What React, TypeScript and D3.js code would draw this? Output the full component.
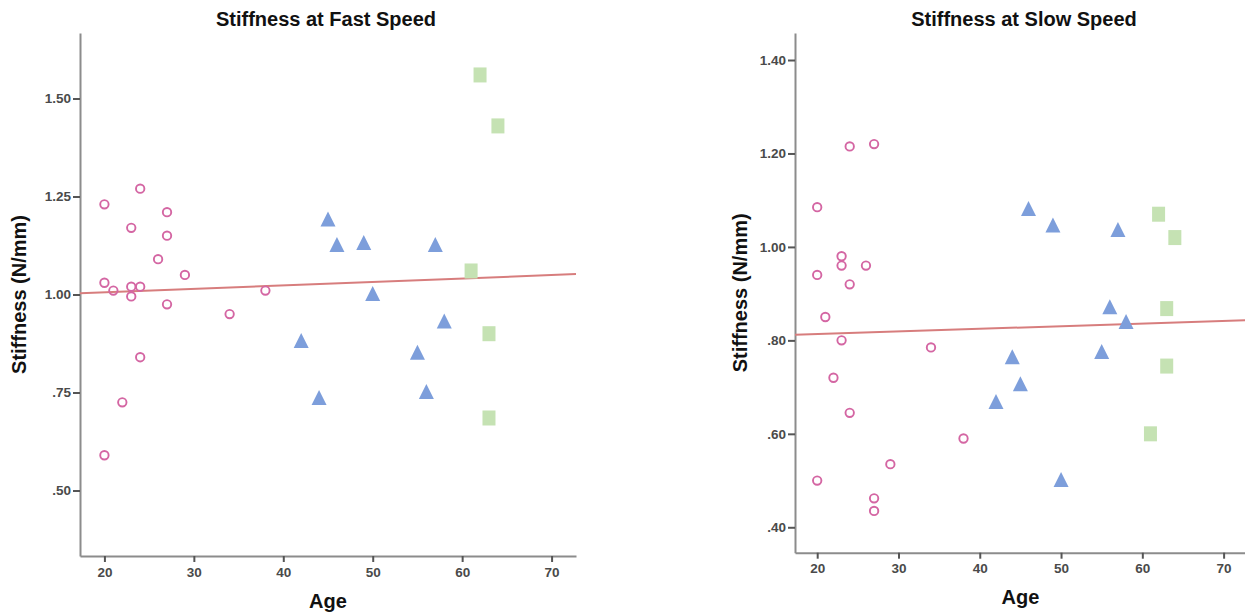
import React, { useEffect, useRef } from 'react';
import * as d3 from 'd3';

// age axis shared by both panels
const ageDomain = [17.27, 72.73];
const ageTicks = [20, 30, 40, 50, 60, 70];

// fast speed
const fastTicks = [0.5, 0.75, 1.0, 1.25, 1.5];
const fastYoungAge = [20, 20, 21, 23, 23, 23, 24, 24, 26, 27, 27, 27, 29, 38, 34, 24, 22, 20];
const fastYoungVal = [1.23, 1.03, 1.01, 1.17, 1.02, 0.995, 1.27, 1.02, 1.09, 1.21, 1.15, 0.975, 1.05, 1.01, 0.95, 0.84, 0.725, 0.59];
const fastMidAge = [45, 46, 49, 57, 50, 58, 42, 55, 44, 56];
const fastMidVal = [1.19, 1.125, 1.13, 1.125, 1.0, 0.93, 0.88, 0.85, 0.735, 0.75];
const fastOldAge = [62, 64, 61, 63, 63];
const fastOldVal = [1.56, 1.43, 1.06, 0.9, 0.685];
const fastFit = [0.9877, 0.000884]; // intercept, slope

// slow speed
const slowTicks = [0.4, 0.6, 0.8, 1.0, 1.2, 1.4];
const slowYoungAge = [24, 27, 20, 20, 23, 23, 24, 26, 21, 23, 22, 24, 34, 38, 29, 20, 27, 27];
const slowYoungVal = [1.215, 1.22, 1.085, 0.94, 0.98, 0.96, 0.92, 0.96, 0.85, 0.8, 0.72, 0.645, 0.785, 0.59, 0.535, 0.5, 0.462, 0.435];
const slowMidAge = [46, 49, 57, 56, 58, 55, 44, 45, 42, 50];
const slowMidVal = [1.08, 1.045, 1.035, 0.87, 0.838, 0.774, 0.763, 0.705, 0.667, 0.5];
const slowOldAge = [62, 64, 63, 63, 61];
const slowOldVal = [1.07, 1.02, 0.868, 0.745, 0.6];
const slowFit = [0.8023, 0.000559];

const FONT = "'Liberation Sans', Arial, sans-serif";

const panels = [
  {
    title: 'Stiffness at Fast Speed',
    left: 80, right: 576, top: 33, bottom: 556,
    yDomain: [0.333, 1.667], yTicks: fastTicks,
    young: [fastYoungAge, fastYoungVal], mid: [fastMidAge, fastMidVal], old: [fastOldAge, fastOldVal],
    fit: fastFit,
    titleX: 326, yLabelX: 26, ageY: 608,
  },
  {
    title: 'Stiffness at Slow Speed',
    left: 795, right: 1245.8, top: 33, bottom: 552.7,
    yDomain: [0.3456, 1.4578], yTicks: slowTicks,
    young: [slowYoungAge, slowYoungVal], mid: [slowMidAge, slowMidVal], old: [slowOldAge, slowOldVal],
    fit: slowFit,
    titleX: 1024, yLabelX: 747, ageY: 604,
  },
];

function drawPanel(g, p) {
  const x = d3.scaleLinear().domain(ageDomain).range([p.left, p.right]);
  const y = d3.scaleLinear().domain(p.yDomain).range([p.bottom, p.top]);
  const fmt = (d) => d3.format('.2f')(d).replace(/^0/, '');

  const ya = g.append('g')
    .attr('transform', `translate(${p.left},0)`)
    .call(d3.axisLeft(y).tickValues(p.yTicks).tickFormat(fmt).tickSize(7).tickPadding(2).tickSizeOuter(0));
  const xa = g.append('g')
    .attr('transform', `translate(0,${p.bottom})`)
    .call(d3.axisBottom(x).tickValues(ageTicks).tickFormat(d3.format('d')).tickSize(6).tickPadding(5).tickSizeOuter(0));
  [ya, xa].forEach((a) => {
    a.select('.domain').attr('stroke', '#8c8c8c').attr('stroke-width', 2);
    a.selectAll('.tick line').attr('stroke', '#555').attr('stroke-width', 2);
    a.selectAll('.tick text').attr('fill', '#4a4a4a').style('font', `bold 13.5px ${FONT}`);
  });

  // fit line
  const line = d3.line().x((d) => x(d)).y((d) => y(p.fit[0] + p.fit[1] * d));
  g.append('path').attr('d', line(ageDomain))
    .attr('fill', 'none').attr('stroke', '#d77d7d').attr('stroke-width', 2);

  // young: open circles
  g.append('g').selectAll('circle').data(d3.range(p.young[0].length)).enter().append('circle')
    .attr('cx', (i) => x(p.young[0][i])).attr('cy', (i) => y(p.young[1][i]))
    .attr('r', 4.2).attr('fill', 'none').attr('stroke', '#d466a3').attr('stroke-width', 1.9);

  // middle: triangles
  g.append('g').selectAll('path').data(d3.range(p.mid[0].length)).enter().append('path')
    .attr('d', (i) => {
      const cx = x(p.mid[0][i]), cy = y(p.mid[1][i]);
      return `M${cx},${cy - 8.5}L${cx + 7.5},${cy + 6.5}L${cx - 7.5},${cy + 6.5}Z`;
    })
    .attr('fill', '#7d9edb');

  // old: squares
  g.append('g').selectAll('rect').data(d3.range(p.old[0].length)).enter().append('rect')
    .attr('x', (i) => x(p.old[0][i]) - 6.5).attr('y', (i) => y(p.old[1][i]) - 7.5)
    .attr('width', 13).attr('height', 15).attr('fill', '#c5e2b3');

  // texts
  g.append('text').attr('x', p.titleX).attr('y', 26).attr('text-anchor', 'middle')
    .style('font', `bold 20px ${FONT}`).attr('fill', '#111').text(p.title);
  g.append('text').attr('transform', `translate(${p.yLabelX},${(p.top + p.bottom) / 2}) rotate(-90)`)
    .attr('text-anchor', 'middle').style('font', `bold 20px ${FONT}`).attr('fill', '#111')
    .text('Stiffness (N/mm)');
  g.append('text').attr('x', x(45)).attr('y', p.ageY).attr('text-anchor', 'middle')
    .style('font', `bold 20px ${FONT}`).attr('fill', '#111').text('Age');
}

export default function App() {
  const ref = useRef(null);
  useEffect(() => {
    const svg = d3.select(ref.current);
    svg.selectAll('*').remove();
    panels.forEach((p) => drawPanel(svg.append('g'), p));
  }, []);
  return (
    <svg ref={ref} width={1245} height={615}
      style={{ position: 'absolute', left: 0, top: 0, background: '#fff' }} />
  );
}
